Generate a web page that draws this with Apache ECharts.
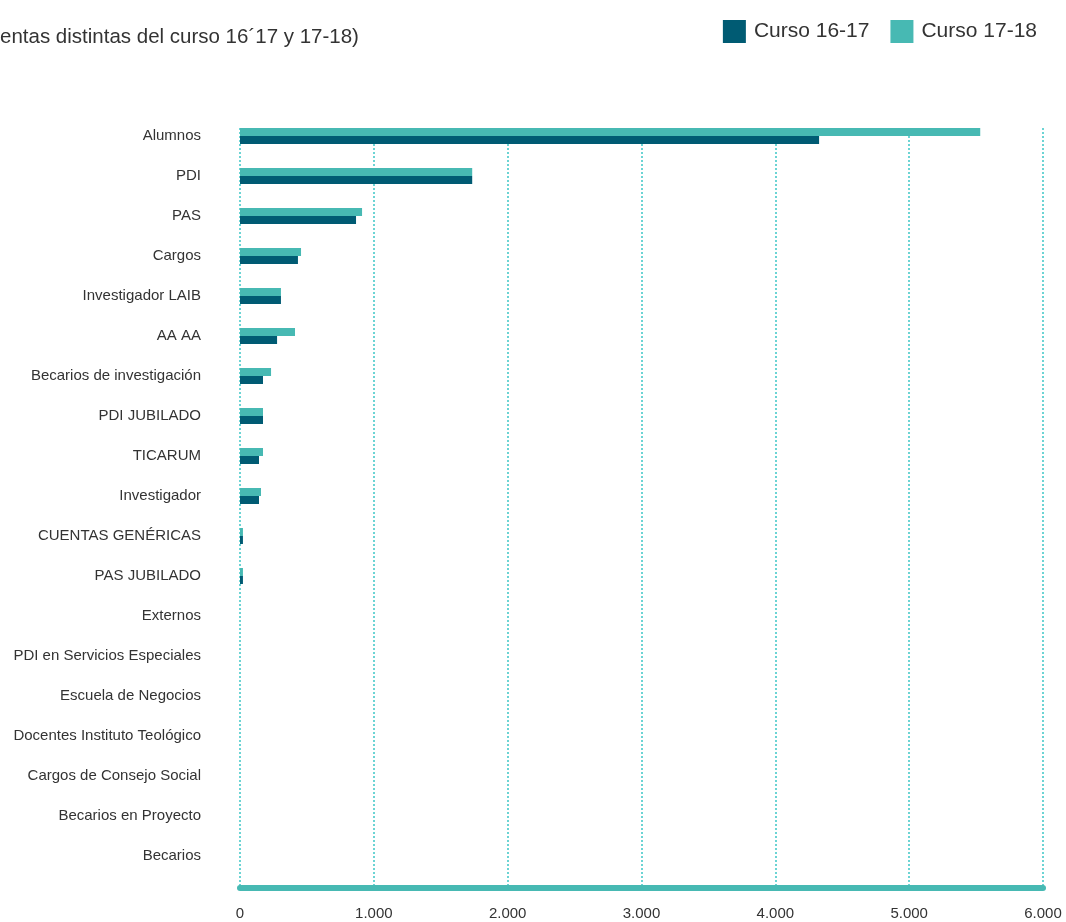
<!DOCTYPE html>
<html>
<head>
<meta charset="utf-8">
<script src="https://cdn.jsdelivr.net/npm/echarts@6/dist/echarts.min.js"></script>
<style>html,body{margin:0;padding:0;background:#fff;}#c{width:1066px;height:922px;}</style>
</head>
<body>
<div id="c"></div>
<script>
const categories = ["Alumnos","PDI","PAS","Cargos","Investigador LAIB","AA AA","Becarios de investigación","PDI JUBILADO","TICARUM","Investigador","CUENTAS GENÉRICAS","PAS JUBILADO","Externos","PDI en Servicios Especiales","Escuela de Negocios","Docentes Instituto Teológico","Cargos de Consejo Social","Becarios en Proyecto","Becarios"];
const curso1617 = [4327,1735,867,433,306,277,172,172,142,142,22,22,0,0,0,0,0,0,0];
const curso1718 = [5531,1735,912,456,306,411,232,172,172,157,22,22,0,0,0,0,0,0,0];
const xTicks = [0,1000,2000,3000,4000,5000,6000];
const titleText = "entas distintas del curso 16´17 y 17-18)";

const fmt = v => v === 0 ? "0" : String(v).replace(/\B(?=(\d{3})+(?!\d))/g, ".");
const font = "'Liberation Sans', Arial, Helvetica, sans-serif";
const chart = echarts.init(document.getElementById('c'), null, {renderer:'canvas'});
chart.setOption({
  animation:false,
  backgroundColor:'#fff',
  title:{text:titleText,left:-5,top:22,textStyle:{fontFamily:font,fontSize:20.5,fontWeight:'normal',color:'#333'}},
  legend:{
    data:['Curso 16-17','Curso 17-18'],
    right:24, top:15, itemWidth:23, itemHeight:23, itemGap:21,
    icon:'rect',
    textStyle:{fontFamily:font,fontSize:21,color:'#333',padding:[0,0,0,3]}
  },
  grid:[
    {left:240,right:23,top:116,bottom:46},
    {left:240,right:23,top:128,bottom:34}
  ],
  xAxis:[
    {gridIndex:0,type:'value',min:0,max:6000,show:false},
    {gridIndex:1,type:'value',min:0,max:6000,interval:1000,
     axisLine:{show:true,lineStyle:{color:'#47b9b3',width:6}},
     axisTick:{show:false},
     axisLabel:{margin:18,fontFamily:font,fontSize:15,color:'#333',formatter:v=>fmt(v)},
     splitLine:{show:true,lineStyle:{color:'#3cc6c6',type:[2,2],width:1.5}}
    }
  ],
  yAxis:[
    {gridIndex:0,type:'category',data:categories,inverse:true,
     axisLine:{show:false},axisTick:{show:false},
     axisLabel:{margin:39,fontFamily:font,fontSize:15,color:'#333'}},
    {gridIndex:1,type:'category',data:categories,inverse:true,show:false}
  ],
  series:[
    {name:'Curso 17-18',type:'bar',xAxisIndex:0,yAxisIndex:0,data:curso1718,barWidth:8,barGap:'0%',itemStyle:{color:'#47b9b3'}},
    {name:'Curso 16-17',type:'bar',xAxisIndex:0,yAxisIndex:0,data:curso1617,barWidth:8,barGap:'0%',itemStyle:{color:'#005b73'}}
  ]
});
</script>
</body>
</html>
